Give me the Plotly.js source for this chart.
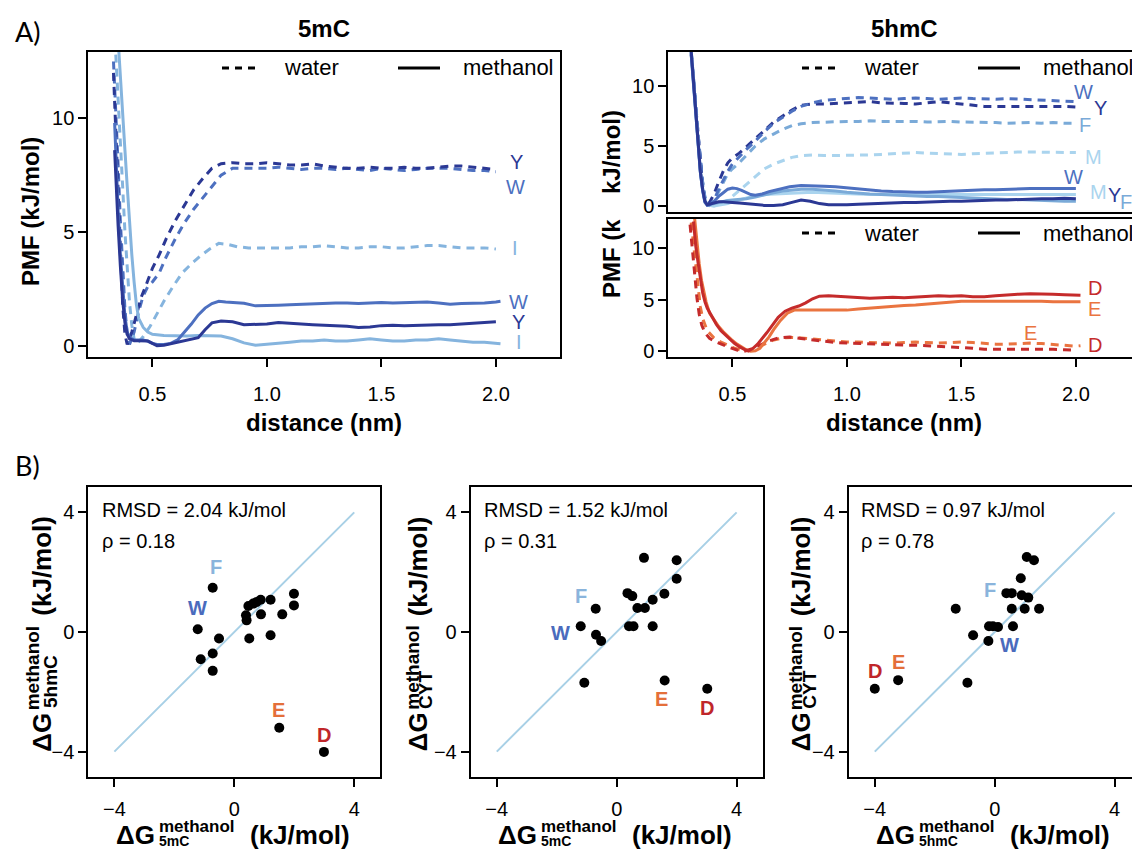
<!DOCTYPE html>
<html>
<head>
<meta charset="utf-8">
<script src="https://cdn.plot.ly/plotly-3.0.1.min.js"></script>
<style>
html,body{margin:0;padding:0;overflow:hidden;background:#fff;}
#chart{width:1160px;height:850px;}
</style>
</head>
<body>
<div id="chart"></div>
<script>
// ---------------- DATA ----------------
// Panel A, 5mC (distance in nm, PMF in kJ/mol)
const mcWaterY_x = [0.33,0.34,0.35,0.36,0.37,0.38,0.39,0.41,0.43,0.45,0.47,0.50,0.53,0.56,0.60,0.64,0.68,0.72,0.76,0.80,0.85,0.90,0.95,1.00,1.05,1.10,1.15,1.20,1.25,1.30,1.35,1.40,1.45,1.50,1.55,1.60,1.65,1.70,1.75,1.80,1.85,1.90,1.95,2.00];
const mcWaterY_y = [12.0,9.5,6.5,3.8,1.8,0.5,0.05,0.6,1.4,2.1,2.6,3.4,4.0,4.7,5.5,6.2,6.85,7.35,7.8,8.0,8.05,8.0,8.0,8.05,8.0,7.95,7.95,8.0,7.9,7.85,7.8,7.8,7.85,7.8,7.8,7.85,7.8,7.8,7.85,7.9,7.9,7.85,7.8,7.75];
const mcWaterW_x = [0.33,0.34,0.35,0.36,0.37,0.38,0.39,0.40,0.42,0.44,0.46,0.48,0.50,0.53,0.56,0.60,0.64,0.68,0.72,0.76,0.80,0.85,0.90,0.95,1.00,1.05,1.10,1.15,1.20,1.25,1.30,1.35,1.40,1.45,1.50,1.55,1.60,1.65,1.70,1.75,1.80,1.85,1.90,1.95,2.00];
const mcWaterW_y = [12.5,10.5,8.0,5.5,3.2,1.6,0.5,0.05,0.6,1.5,2.2,2.6,2.8,3.2,3.9,4.7,5.4,6.0,6.5,7.0,7.5,7.8,7.8,7.8,7.8,7.85,7.8,7.75,7.8,7.8,7.75,7.8,7.75,7.7,7.8,7.75,7.7,7.75,7.8,7.8,7.8,7.75,7.7,7.7,7.65];
const mcWaterI_x = [0.34,0.35,0.36,0.37,0.38,0.39,0.40,0.41,0.42,0.43,0.46,0.49,0.52,0.55,0.59,0.63,0.67,0.71,0.75,0.79,0.83,0.87,0.92,0.95,1.00,1.05,1.10,1.15,1.20,1.25,1.30,1.35,1.40,1.45,1.50,1.55,1.60,1.65,1.70,1.75,1.80,1.85,1.90,1.95,2.00];
const mcWaterI_y = [12.8,11.0,9.0,7.0,5.0,3.3,1.9,0.9,0.3,0.05,0.4,0.85,1.4,1.95,2.6,3.2,3.6,3.95,4.25,4.5,4.45,4.35,4.3,4.3,4.3,4.3,4.3,4.35,4.35,4.4,4.35,4.3,4.3,4.35,4.35,4.3,4.3,4.35,4.4,4.4,4.35,4.3,4.3,4.3,4.25];
const mcMethW_x = [0.335,0.34,0.35,0.36,0.37,0.38,0.39,0.40,0.42,0.44,0.46,0.48,0.50,0.52,0.55,0.58,0.61,0.64,0.67,0.70,0.73,0.76,0.79,0.82,0.85,0.90,0.95,1.00,1.05,1.10,1.15,1.20,1.25,1.30,1.35,1.40,1.45,1.50,1.55,1.60,1.65,1.70,1.75,1.80,1.85,1.90,1.95,2.00,2.02];
const mcMethW_y = [9.8,8.3,6.0,4.0,2.4,1.3,0.6,0.35,0.25,0.25,0.25,0.2,0.1,0.05,0.05,0.1,0.25,0.6,0.95,1.35,1.65,1.85,1.95,1.92,1.9,1.86,1.75,1.75,1.78,1.8,1.82,1.85,1.85,1.88,1.87,1.85,1.88,1.9,1.88,1.9,1.9,1.92,1.88,1.82,1.85,1.85,1.88,1.92,1.95];
const mcMethY_x = [0.335,0.34,0.35,0.36,0.37,0.38,0.39,0.40,0.42,0.44,0.46,0.48,0.50,0.52,0.55,0.58,0.61,0.64,0.67,0.70,0.73,0.76,0.80,0.85,0.90,0.95,1.00,1.05,1.10,1.15,1.20,1.25,1.30,1.35,1.40,1.45,1.50,1.55,1.60,1.65,1.70,1.75,1.80,1.85,1.90,1.95,2.00];
const mcMethY_y = [8.6,7.2,5.3,3.5,2.0,1.0,0.5,0.3,0.22,0.22,0.22,0.2,0.1,0.0,0.02,0.08,0.15,0.22,0.28,0.35,0.7,1.0,1.08,1.05,0.92,0.92,0.95,1.02,1.0,0.95,0.92,0.9,0.88,0.85,0.8,0.82,0.88,0.9,0.88,0.9,0.9,0.92,0.92,0.95,0.97,1.0,1.05];
const mcMethI_x = [0.35,0.36,0.37,0.38,0.39,0.40,0.41,0.42,0.43,0.44,0.46,0.48,0.50,0.55,0.60,0.65,0.70,0.75,0.80,0.85,0.90,0.95,1.00,1.05,1.10,1.15,1.20,1.25,1.30,1.35,1.40,1.45,1.50,1.55,1.60,1.65,1.70,1.75,1.80,1.85,1.90,1.95,2.00,2.02];
const mcMethI_y = [13.5,12.0,10.3,8.6,7.0,5.4,4.0,2.8,1.8,1.2,0.8,0.6,0.5,0.45,0.42,0.42,0.45,0.45,0.42,0.3,0.12,0.02,0.05,0.1,0.15,0.2,0.2,0.25,0.2,0.2,0.25,0.3,0.25,0.2,0.2,0.25,0.25,0.3,0.25,0.2,0.15,0.15,0.1,0.08];

// Panel A, 5hmC (top: aromatic / M)
const hmcDist = [0.32,0.33,0.34,0.35,0.36,0.37,0.38,0.39,0.40,0.42,0.44,0.46,0.48,0.50,0.53,0.56,0.60,0.64,0.68,0.72,0.76,0.80,0.85,0.90,0.95,1.00,1.05,1.10,1.15,1.20,1.25,1.30,1.35,1.40,1.45,1.50,1.55,1.60,1.65,1.70,1.75,1.80,1.85,1.90,1.95,2.00];
const hmcWaterY = [12.7,10.5,8.0,5.5,3.3,1.6,0.4,0.1,0.3,1.0,2.0,2.9,3.6,4.0,4.4,4.9,5.6,6.3,7.0,7.5,8.0,8.4,8.5,8.5,8.55,8.6,8.7,8.7,8.6,8.6,8.55,8.5,8.6,8.7,8.6,8.5,8.35,8.3,8.3,8.3,8.35,8.35,8.3,8.35,8.3,8.25];
const hmcWaterW = [12.9,11.0,8.5,6.0,3.8,2.0,0.7,0.15,0.05,0.5,1.4,2.2,2.9,3.5,4.1,4.7,5.4,6.2,6.9,7.4,7.9,8.3,8.6,8.8,8.9,9.0,9.05,9.0,8.95,8.9,8.95,9.0,8.95,8.9,8.95,9.0,8.95,8.9,8.9,8.95,8.9,8.9,8.85,8.8,8.75,8.7];
const hmcWaterF = [12.8,10.7,8.2,5.8,3.6,1.9,0.6,0.1,0.05,0.4,1.2,2.0,2.7,3.1,3.6,4.2,5.0,5.6,6.0,6.4,6.7,6.85,6.95,7.0,7.0,7.05,7.05,7.1,7.05,7.05,7.1,7.05,7.0,7.05,7.05,7.0,7.0,6.95,6.95,6.9,6.95,6.95,6.9,6.95,6.9,6.9];
const hmcWaterM = [12.9,10.8,8.3,5.9,3.7,2.0,0.8,0.25,0.05,0.0,0.1,0.3,0.5,0.8,1.3,1.8,2.5,3.1,3.5,3.8,4.05,4.2,4.25,4.2,4.2,4.25,4.2,4.25,4.3,4.35,4.4,4.45,4.4,4.35,4.35,4.3,4.35,4.4,4.45,4.45,4.5,4.5,4.5,4.5,4.5,4.45];
const hmcMethF = [12.7,10.1,7.4,4.9,2.8,1.3,0.35,0.1,0.1,0.2,0.3,0.4,0.45,0.5,0.55,0.6,0.75,0.95,1.1,1.25,1.35,1.4,1.4,1.35,1.25,1.15,1.05,1.0,0.95,0.9,0.85,0.85,0.8,0.8,0.75,0.75,0.7,0.65,0.6,0.55,0.55,0.5,0.45,0.45,0.4,0.4];
const hmcMethM = [12.9,10.3,7.6,5.1,3.0,1.5,0.5,0.15,0.05,0.0,0.05,0.1,0.2,0.35,0.5,0.7,0.85,0.95,1.0,1.05,1.1,1.15,1.15,1.1,1.05,1.0,0.95,0.95,0.95,0.95,1.0,1.0,1.0,1.0,1.0,1.0,1.0,1.0,1.0,1.0,1.0,1.0,1.0,0.95,0.95,0.95];
const hmcMethW_x = [0.32,0.33,0.34,0.35,0.36,0.37,0.38,0.39,0.40,0.42,0.44,0.46,0.48,0.50,0.52,0.54,0.56,0.58,0.60,0.63,0.66,0.70,0.75,0.80,0.85,0.90,0.95,1.00,1.05,1.10,1.15,1.20,1.25,1.30,1.35,1.40,1.45,1.50,1.55,1.60,1.65,1.70,1.75,1.80,1.85,1.90,1.95,2.00];
const hmcMethW_y = [12.6,10.0,7.3,4.8,2.8,1.3,0.3,0.05,0.1,0.4,0.8,1.1,1.4,1.5,1.45,1.3,1.1,0.95,0.9,1.0,1.2,1.4,1.6,1.7,1.7,1.65,1.6,1.5,1.45,1.35,1.25,1.2,1.15,1.15,1.15,1.2,1.2,1.25,1.3,1.35,1.35,1.4,1.4,1.45,1.45,1.45,1.45,1.45];
const hmcMethY_x = [0.32,0.33,0.34,0.35,0.36,0.37,0.38,0.39,0.40,0.42,0.44,0.46,0.48,0.50,0.53,0.56,0.60,0.64,0.68,0.72,0.76,0.80,0.84,0.88,0.92,0.96,1.00,1.05,1.10,1.15,1.20,1.25,1.30,1.35,1.40,1.45,1.50,1.55,1.60,1.65,1.70,1.75,1.80,1.85,1.90,1.95,2.00];
const hmcMethY_y = [12.9,10.2,7.5,5.0,2.9,1.4,0.4,0.1,0.15,0.3,0.35,0.35,0.3,0.3,0.25,0.2,0.1,0.05,0.05,0.1,0.3,0.5,0.4,0.2,0.1,0.08,0.1,0.15,0.2,0.2,0.25,0.3,0.3,0.35,0.35,0.4,0.4,0.45,0.45,0.5,0.5,0.55,0.55,0.6,0.6,0.65,0.6];

// Panel A, 5hmC (bottom: acidic D / E)
const hmcWaterD_x = [0.315,0.325,0.33,0.34,0.345,0.355,0.366,0.38,0.40,0.43,0.46,0.49,0.52,0.55,0.58,0.62,0.66,0.70,0.75,0.80,0.85,0.90,0.95,1.00,1.05,1.10,1.15,1.20,1.25,1.30,1.35,1.40,1.45,1.50,1.55,1.60,1.65,1.70,1.75,1.80,1.85,1.90,1.95,2.00];
const hmcWaterD_y = [12.3,10.0,8.4,6.4,5.2,3.6,2.56,1.8,1.27,0.9,0.6,0.35,0.13,0.0,0.2,0.6,1.0,1.3,1.4,1.25,1.1,0.95,0.85,0.8,0.75,0.7,0.65,0.6,0.6,0.6,0.55,0.5,0.45,0.4,0.3,0.2,0.2,0.25,0.2,0.2,0.2,0.2,0.15,0.1];
const hmcWaterE_x = [0.32,0.33,0.34,0.35,0.36,0.37,0.39,0.42,0.45,0.48,0.51,0.54,0.57,0.60,0.64,0.68,0.72,0.76,0.80,0.85,0.90,0.95,1.00,1.05,1.10,1.15,1.20,1.25,1.30,1.35,1.40,1.45,1.50,1.55,1.60,1.65,1.70,1.75,1.80,1.85,1.90,1.95,2.00,2.02];
const hmcWaterE_y = [12.5,10.5,8.0,6.0,4.3,3.2,2.0,1.3,0.9,0.6,0.3,0.1,0.05,0.3,0.7,1.1,1.3,1.35,1.3,1.2,1.1,0.95,0.9,0.9,0.85,0.8,0.8,0.85,0.9,0.85,0.8,0.85,0.9,0.85,0.75,0.7,0.7,0.75,0.8,0.75,0.65,0.6,0.5,0.55];
const hmcMethD_x = [0.33,0.34,0.35,0.36,0.37,0.38,0.39,0.41,0.43,0.45,0.47,0.49,0.51,0.53,0.55,0.56,0.57,0.59,0.61,0.63,0.65,0.67,0.70,0.73,0.76,0.79,0.82,0.85,0.88,0.92,0.96,1.00,1.05,1.10,1.15,1.20,1.25,1.30,1.35,1.40,1.45,1.50,1.55,1.60,1.65,1.70,1.75,1.80,1.85,1.90,1.95,2.00,2.02];
const hmcMethD_y = [12.6,10.2,8.6,6.9,5.7,4.8,4.2,3.4,2.6,2.0,1.55,1.1,0.75,0.45,0.2,0.1,0.05,0.3,0.7,1.2,1.8,2.4,3.3,3.9,4.2,4.4,4.7,5.1,5.35,5.4,5.35,5.3,5.2,5.15,5.2,5.25,5.2,5.25,5.35,5.4,5.35,5.4,5.3,5.3,5.4,5.5,5.55,5.6,5.6,5.55,5.5,5.5,5.45];
const hmcMethE_x = [0.335,0.345,0.355,0.365,0.375,0.385,0.40,0.42,0.44,0.46,0.48,0.50,0.52,0.54,0.56,0.58,0.60,0.62,0.64,0.66,0.68,0.71,0.74,0.77,0.80,0.85,0.90,0.95,1.00,1.05,1.10,1.15,1.20,1.25,1.30,1.35,1.40,1.45,1.50,1.55,1.60,1.65,1.70,1.75,1.80,1.85,1.90,1.95,2.00,2.02];
const hmcMethE_y = [12.9,10.4,8.5,6.9,5.7,4.8,3.7,3.0,2.4,1.9,1.45,1.05,0.7,0.4,0.15,0.02,0.05,0.3,0.8,1.4,2.1,3.0,3.7,4.0,4.0,4.0,3.95,3.95,4.0,4.1,4.2,4.3,4.35,4.45,4.5,4.6,4.7,4.8,4.85,4.85,4.85,4.9,4.9,4.85,4.85,4.85,4.8,4.8,4.8,4.8];

// Panel B scatter data (kJ/mol)
const b1_dG5mC  = [-0.72,-1.22,-1.12,-0.72,-0.72,-0.51,0.39,0.41,0.47,0.63,0.74,0.88,1.21,0.89,0.50,1.21,1.60,1.99,1.99,1.50,2.99];
const b1_dG5hmC = [1.48,0.09,-0.91,-0.72,-1.30,-0.22,0.56,0.39,0.87,0.95,1.00,1.08,1.08,0.59,-0.22,-0.11,0.59,1.28,0.89,-3.20,-4.01];
const b2_dG5mC  = [0.91,2.00,2.00,0.36,0.52,1.59,1.20,0.69,0.94,-0.70,-1.20,-0.69,-0.52,0.41,0.56,1.20,-1.08,1.60,3.02];
const b2_dGCYT  = [2.48,2.40,1.78,1.30,1.20,1.28,1.08,0.80,0.80,0.78,0.19,-0.09,-0.30,0.19,0.19,0.19,-1.70,-1.62,-1.90];
const b3_dG5hmC = [1.07,1.31,0.87,0.39,0.57,0.90,1.12,0.57,1.00,1.48,-1.30,-0.19,-0.06,0.11,0.61,-0.72,-0.21,-0.91,-3.22,-4.00];
const b3_dGCYT  = [2.51,2.40,1.80,1.30,1.30,1.23,1.15,0.78,0.78,0.78,0.78,0.19,0.19,0.17,0.19,-0.11,-0.30,-1.70,-1.61,-1.90];
const diagLine = [-4, 4];
const statsText = [["RMSD = 2.04 kJ/mol","\u03c1 = 0.18"],["RMSD = 1.52 kJ/mol","\u03c1 = 0.31"],["RMSD = 0.97 kJ/mol","\u03c1 = 0.78"]];
const distTicks = [0.5,1.0,1.5,2.0];
const pmfTicks = [0,5,10];
const dGTicks = [-4,0,4];

// ---------------- STYLE ----------------
const W = 1160, H = 850;
const px = v => v / W, py = v => 1 - v / H;
const FONT = "Liberation Sans, Arial, Helvetica, sans-serif";
const C = {Y:'#2b3894', W:'#4d70c0', I:'#85b4de', F:'#7aaad8', M:'#aad4ee', D:'#c52b2b', E:'#ea7440',
           diag:'#a8d0e6', lF:'#8ab4dc', lW:'#4a6bbd', lE:'#e46f3a', lD:'#c0262a'};
const DASH = '8px,6px';

function ln(x, y, color, dashed, xa, ya){
  return {type:'scatter', mode:'lines', x:x, y:y, xaxis:xa, yaxis:ya, hoverinfo:'skip', showlegend:false,
          line:{color:color, width:3, dash: dashed ? DASH : 'solid'}};
}
const traces = [
  // 5mC
  ln(mcWaterI_x, mcWaterI_y, C.I, true, 'x','y'),
  ln(mcWaterW_x, mcWaterW_y, C.W, true, 'x','y'),
  ln(mcWaterY_x, mcWaterY_y, C.Y, true, 'x','y'),
  ln(mcMethI_x, mcMethI_y, C.I, false, 'x','y'),
  ln(mcMethW_x, mcMethW_y, C.W, false, 'x','y'),
  ln(mcMethY_x, mcMethY_y, C.Y, false, 'x','y'),
  // 5hmC top
  ln(hmcDist, hmcWaterM, C.M, true, 'x2','y2'),
  ln(hmcDist, hmcWaterF, C.F, true, 'x2','y2'),
  ln(hmcDist, hmcWaterY, C.Y, true, 'x2','y2'),
  ln(hmcDist, hmcWaterW, C.W, true, 'x2','y2'),
  ln(hmcDist, hmcMethM, C.M, false, 'x2','y2'),
  ln(hmcDist, hmcMethF, C.F, false, 'x2','y2'),
  ln(hmcMethW_x, hmcMethW_y, C.W, false, 'x2','y2'),
  ln(hmcMethY_x, hmcMethY_y, C.Y, false, 'x2','y2'),
  // 5hmC bottom
  ln(hmcWaterE_x, hmcWaterE_y, C.E, true, 'x3','y3'),
  ln(hmcWaterD_x, hmcWaterD_y, C.D, true, 'x3','y3'),
  ln(hmcMethE_x, hmcMethE_y, C.E, false, 'x3','y3'),
  ln(hmcMethD_x, hmcMethD_y, C.D, false, 'x3','y3'),
];
const scat = [[b1_dG5mC,b1_dG5hmC,'x4','y4'],[b2_dG5mC,b2_dGCYT,'x5','y5'],[b3_dG5hmC,b3_dGCYT,'x6','y6']];
scat.forEach(s=>{
  traces.push({type:'scatter', mode:'lines', x:diagLine, y:diagLine, xaxis:s[2], yaxis:s[3], hoverinfo:'skip', showlegend:false, line:{color:C.diag, width:2}});
  traces.push({type:'scatter', mode:'markers', x:s[0], y:s[1], xaxis:s[2], yaxis:s[3], hoverinfo:'skip', showlegend:false, marker:{color:'#000', size:10}});
});

const axBase = {showgrid:false, zeroline:false, showline:true, mirror:true, linecolor:'#000', linewidth:2,
  ticks:'outside', ticklen:8, tickwidth:2, tickcolor:'#000', tickfont:{family:FONT, size:20, color:'#000'}, fixedrange:true};
function ax(o){ return Object.assign({}, axBase, o); }

const layout = {
  width:W, height:H, margin:{l:0,r:0,t:0,b:0}, paper_bgcolor:'#fff', plot_bgcolor:'#fff', showlegend:false,
  xaxis: ax({domain:[px(88.3),px(560)], range:[0.22,2.28], tickvals:distTicks, tickformat:'.1f', anchor:'y', ticklabelstandoff:10}),
  yaxis: ax({domain:[py(357),py(51.7)], range:[-0.5,12.93], tickvals:pmfTicks, anchor:'x'}),
  xaxis2: ax({domain:[px(668.3),px(1140)], range:[0.22,2.28], tickvals:distTicks, showticklabels:false, ticks:'', anchor:'y2'}),
  yaxis2: ax({domain:[py(211.5),py(51.7)], range:[-0.46,12.86], tickvals:pmfTicks, anchor:'x2'}),
  xaxis3: ax({domain:[px(668.3),px(1140)], range:[0.22,2.28], tickvals:distTicks, tickformat:'.1f', anchor:'y3', ticklabelstandoff:10}),
  yaxis3: ax({domain:[py(356.7),py(218.5)], range:[-0.52,12.89], tickvals:pmfTicks, anchor:'x3'}),
  xaxis4: ax({domain:[px(88.3),px(380.3)], range:[-4.87,4.87], tickvals:dGTicks, anchor:'y4', ticklabelstandoff:5}),
  yaxis4: ax({domain:[py(777.3),py(486.7)], range:[-4.86,4.86], tickvals:dGTicks, anchor:'x4'}),
  xaxis5: ax({domain:[px(470.7),px(762.7)], range:[-4.87,4.87], tickvals:dGTicks, anchor:'y5', ticklabelstandoff:5}),
  yaxis5: ax({domain:[py(777.3),py(486.7)], range:[-4.86,4.86], tickvals:dGTicks, anchor:'x5'}),
  xaxis6: ax({domain:[px(848.7),px(1140.7)], range:[-4.87,4.87], tickvals:dGTicks, anchor:'y6', ticklabelstandoff:5}),
  yaxis6: ax({domain:[py(777.3),py(486.7)], range:[-4.86,4.86], tickvals:dGTicks, anchor:'x6'}),
  annotations: [], shapes: []
};
const A = layout.annotations, S = layout.shapes;
function txt(t, x, y, o){
  A.push(Object.assign({text:t, x:px(x), y:py(y), xref:'paper', yref:'paper', showarrow:false,
    xanchor:'center', yanchor:'middle', font:{family:FONT, size:20, color:'#000'}}, o||{}));
}
function bold(size){ return {family:FONT, size:size, color:'#000', weight:'bold'}; }

// panel letters & titles
txt('A)', 28, 32, {font:{family:'Lato, Noto Sans, sans-serif', size:27, color:'#000'}});
txt('B)', 27, 465, {font:{family:'Lato, Noto Sans, sans-serif', size:27, color:'#000'}});
txt('<b>5mC</b>', 324, 28, {font:bold(24)});
txt('<b>5hmC</b>', 904, 28, {font:bold(24)});
txt('<b>distance (nm)</b>', 324, 423, {font:bold(24)});
txt('<b>distance (nm)</b>', 904, 423, {font:bold(24)});
txt('<b>PMF (kJ/mol)</b>', 31, 212, {font:bold(24), textangle:-90});
txt('<b>kJ/mol)</b>', 611, 152, {font:bold(24), textangle:-90});
txt('<b>PMF (k</b>', 611, 259, {font:bold(24), textangle:-90});

// legends (water dashed / methanol solid)
[[0,68],[580,68],[580,233]].forEach(p=>{
  const dx=p[0], y=p[1];
  S.push({type:'line', xref:'paper', yref:'paper', x0:px(222+dx), x1:px(260+dx), y0:py(y), y1:py(y), line:{color:'#000', width:3, dash:'7px,6px'}});
  S.push({type:'line', xref:'paper', yref:'paper', x0:px(398+dx), x1:px(440+dx), y0:py(y), y1:py(y), line:{color:'#000', width:3}});
  txt('water', 311+dx, y, {font:{family:FONT, size:22, color:'#000'}});
  txt('methanol', 461+dx, y, {xanchor:'left', font:{family:FONT, size:22, color:'#000'}});
});

// curve end labels (data coordinates)
function clab(t, x, y, color, xa, ya){
  A.push({text:t, x:x, y:y, xref:xa, yref:ya, showarrow:false, xanchor:'center', yanchor:'middle', font:{family:FONT, size:20, color:color}});
}
clab('Y', 2.09, 8.09, C.Y, 'x','y'); clab('W', 2.085, 7.0, C.W, 'x','y'); clab('I', 2.085, 4.28, C.I, 'x','y');
clab('W', 2.10, 1.94, C.W, 'x','y'); clab('Y', 2.10, 1.06, C.Y, 'x','y'); clab('I', 2.10, 0.18, C.I, 'x','y');
clab('W', 2.033, 9.5, C.W, 'x2','y2'); clab('Y', 2.106, 8.14, C.Y, 'x2','y2'); clab('F', 2.04, 6.75, C.F, 'x2','y2');
clab('M', 2.076, 4.1, C.M, 'x2','y2'); clab('W', 1.99, 2.44, C.W, 'x2','y2'); clab('M', 2.10, 1.19, C.M, 'x2','y2');
clab('Y', 2.17, 0.92, C.Y, 'x2','y2'); clab('F', 2.22, 0.36, C.F, 'x2','y2');
clab('D', 2.085, 6.12, C.D, 'x3','y3'); clab('E', 2.08, 4.1, C.E, 'x3','y3');
clab('E', 1.80, 1.75, C.E, 'x3','y3'); clab('D', 2.085, 0.61, C.D, 'x3','y3');

// scatter point labels
function plab(t, x, y, color, xa, ya){
  A.push({text:'<b>'+t+'</b>', x:x, y:y, xref:xa, yref:ya, showarrow:false, xanchor:'center', yanchor:'middle', font:{family:FONT, size:20, color:color, weight:'bold'}});
}
plab('F', -0.61, 2.17, C.lF, 'x4','y4'); plab('W', -1.23, 0.8, C.lW, 'x4','y4'); plab('E', 1.47, -2.6, C.lE, 'x4','y4'); plab('D', 2.99, -3.43, C.lD, 'x4','y4');
plab('F', -1.19, 1.19, C.lF, 'x5','y5'); plab('W', -1.89, -0.03, C.lW, 'x5','y5'); plab('E', 1.48, -2.23, C.lE, 'x5','y5'); plab('D', 3.02, -2.54, C.lD, 'x5','y5');
plab('F', -0.16, 1.41, C.lF, 'x6','y6'); plab('W', 0.5, -0.45, C.lW, 'x6','y6'); plab('E', -3.22, -1.0, C.lE, 'x6','y6'); plab('D', -4.0, -1.3, C.lD, 'x6','y6');

// stats text
[100, 481.7, 859.3].forEach((x,i)=>{
  txt(statsText[i][0], x, 510, {xanchor:'left', font:{family:FONT, size:20, color:'#000'}});
  txt(statsText[i][1], x, 541, {xanchor:'left', font:{family:FONT, size:20, color:'#000'}});
});

// composite axis titles for scatter panels
const xl = [[135,157,'5mC',248],[517,539,'5mC',630],[895,917,'5hmC',1008]];
xl.forEach(a=>{
  txt('<b>\u0394G</b>', a[0], 835, {font:bold(26)});
  txt('<b>methanol</b>', a[1], 826, {xanchor:'left', font:bold(17)});
  txt('<b>'+a[2]+'</b>', a[1], 841, {xanchor:'left', font:bold(14)});
  txt('<b>(kJ/mol)</b>', a[3], 835, {xanchor:'left', font:bold(26)});
});
const yl = [[41.7,32.3,50,'5hmC'],[418.3,411.7,425,'CYT'],[801.3,795.3,808.7,'CYT']];
yl.forEach(a=>{
  txt('<b>\u0394G</b>', a[0], 732, {font:bold(26), textangle:-90});
  txt('<b>methanol</b>', a[1], 668, {font:bold(19), textangle:-90});
  txt('<b>'+a[3]+'</b>', a[2], a[3]==='CYT'?690:682, {font:bold(19), textangle:-90});
  txt('<b>(kJ/mol)</b>', a[0], 566, {font:bold(26), textangle:-90});
});

Plotly.newPlot('chart', traces, layout, {staticPlot:true, displayModeBar:false});
</script>
</body>
</html>
